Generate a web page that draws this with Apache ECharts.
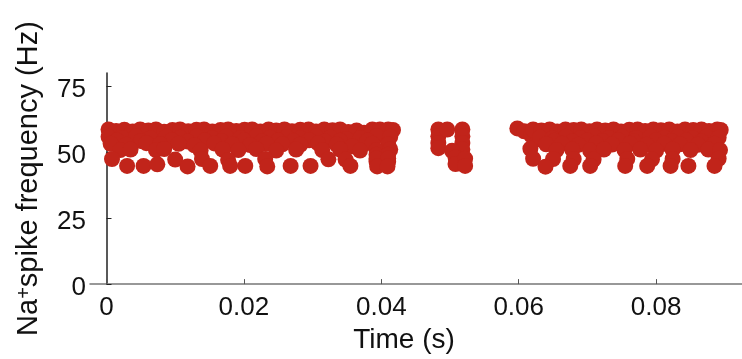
<!DOCTYPE html>
<html>
<head>
<meta charset="utf-8">
<script src="https://cdn.jsdelivr.net/npm/echarts@6.0.0/dist/echarts.min.js"></script>
<style>
  html, body { margin: 0; padding: 0; background: #fff; }
  #chart { width: 742px; height: 359px; }
</style>
</head>
<body>
<div id="chart"></div>
<script>
// spike times (s) and instantaneous frequency (Hz)
const spikesEarly = [
  [0.0003, 58.6], [0.0014, 58.0], [0.0026, 58.5], [0.0038, 57.8], [0.0049, 58.6], [0.0061, 58.2],
  [0.0072, 58.6], [0.0084, 57.7], [0.0096, 58.4], [0.0107, 58.6], [0.0119, 57.9], [0.0131, 58.5],
  [0.0142, 58.6], [0.0154, 57.8], [0.0166, 58.4], [0.0177, 58.6], [0.0189, 58.0], [0.0201, 58.5],
  [0.0212, 58.6], [0.0224, 57.8], [0.0236, 58.6], [0.0247, 58.2], [0.0259, 58.6], [0.0270, 57.9],
  [0.0282, 58.5], [0.0294, 58.6], [0.0305, 57.8], [0.0317, 58.6], [0.0329, 58.3], [0.0340, 58.6],
  [0.0352, 57.6], [0.0364, 58.2], [0.0375, 57.4], [0.0387, 58.6], [0.0398, 58.6], [0.0410, 58.6],
  [0.0417, 58.4],
  [0.0003, 55.8], [0.0023, 55.4], [0.0043, 56.0], [0.0064, 55.2], [0.0087, 55.8], [0.0107, 55.5],
  [0.0131, 55.9], [0.0154, 55.3], [0.0174, 55.8], [0.0195, 55.4], [0.0218, 56.0], [0.0238, 55.5],
  [0.0262, 55.7], [0.0282, 55.3], [0.0305, 55.9], [0.0326, 55.6], [0.0349, 55.0], [0.0370, 55.4],
  [0.0393, 56.0], [0.0413, 55.8],
  [0.0015, 54.4], [0.0050, 54.2], [0.0095, 54.5], [0.0118, 54.0], [0.0143, 54.4], [0.0167, 54.2],
  [0.0200, 54.5], [0.0226, 54.0], [0.0250, 54.4], [0.0272, 54.2], [0.0295, 54.5], [0.0318, 54.0],
  [0.0340, 54.3], [0.0380, 54.4],
  [0.0006, 53.2], [0.0029, 52.8], [0.0058, 53.4], [0.0078, 53.0], [0.0105, 53.2], [0.0128, 52.6],
  [0.0157, 53.3], [0.0183, 53.0], [0.0209, 52.7], [0.0233, 53.2], [0.0256, 53.0], [0.0282, 52.8],
  [0.0308, 53.3], [0.0335, 52.9], [0.0358, 52.2], [0.0387, 53.2], [0.0410, 53.0],
  [0.0020, 50.8], [0.0035, 51.0], [0.0072, 50.8], [0.0084, 51.2], [0.0137, 50.6], [0.0169, 51.0],
  [0.0192, 50.8], [0.0218, 51.2], [0.0247, 50.6], [0.0276, 51.0], [0.0314, 50.8], [0.0340, 51.0],
  [0.0369, 50.6], [0.0393, 50.8], [0.0413, 51.0],
  [0.0393, 49.0], [0.0410, 49.0], [0.0393, 46.4], [0.0410, 46.4],
  [0.0008, 47.4], [0.0100, 47.2], [0.0139, 47.4], [0.0177, 47.0], [0.0231, 47.4], [0.0323, 47.3],
  [0.0348, 47.2], [0.0393, 47.6], [0.0410, 47.6],
  [0.0030, 44.8], [0.0054, 44.8], [0.0074, 45.4], [0.0118, 44.6], [0.0151, 44.8], [0.0180, 44.8],
  [0.0202, 44.8], [0.0234, 44.6], [0.0268, 44.8], [0.0297, 44.8], [0.0355, 44.8], [0.0394, 44.6],
  [0.0409, 44.6]
];

const spikesMid = [
  [0.0483, 58.6], [0.0483, 56.0], [0.0483, 53.5], [0.0483, 51.5], [0.0496, 58.6],
  [0.0518, 58.6], [0.0518, 56.0], [0.0518, 53.5], [0.0518, 51.0], [0.0503, 50.5],
  [0.0508, 48.0], [0.0508, 45.5], [0.0522, 47.5], [0.0522, 44.8]
];

const spikesLate = [
  [0.0598, 59.0], [0.0608, 57.9], [0.0618, 56.4], [0.0628, 54.9],
  [0.0621, 58.6], [0.0633, 58.2], [0.0645, 58.6], [0.0656, 57.8], [0.0668, 58.6], [0.0680, 58.4],
  [0.0691, 58.6], [0.0703, 57.9], [0.0714, 58.6], [0.0726, 58.2], [0.0738, 58.6], [0.0749, 57.8],
  [0.0761, 58.5], [0.0773, 58.6], [0.0784, 58.0], [0.0796, 58.6], [0.0807, 58.3], [0.0819, 58.6],
  [0.0831, 57.8], [0.0842, 58.6], [0.0854, 58.4], [0.0866, 58.6], [0.0877, 58.0], [0.0889, 58.6],
  [0.0894, 58.4],
  [0.0631, 55.6], [0.0649, 55.2], [0.0669, 55.8], [0.0690, 55.4], [0.0710, 55.9], [0.0731, 55.3],
  [0.0751, 55.8], [0.0771, 55.4], [0.0792, 55.9], [0.0812, 55.5], [0.0832, 55.8], [0.0853, 55.3],
  [0.0873, 55.8], [0.0891, 55.5],
  [0.0652, 54.3], [0.0678, 54.0], [0.0700, 54.4], [0.0722, 54.2], [0.0745, 54.5], [0.0768, 54.0],
  [0.0800, 54.4], [0.0822, 54.2], [0.0844, 54.4], [0.0866, 54.0],
  [0.0640, 53.0], [0.0663, 53.2], [0.0687, 52.8], [0.0713, 53.3], [0.0736, 52.9], [0.0762, 53.2],
  [0.0786, 52.8], [0.0812, 53.2], [0.0835, 53.0], [0.0861, 52.8], [0.0885, 53.2],
  [0.0617, 51.3], [0.0655, 50.8], [0.0678, 51.0], [0.0704, 50.6], [0.0724, 51.0], [0.0754, 50.8],
  [0.0777, 51.0], [0.0800, 50.6], [0.0824, 51.0], [0.0850, 50.8], [0.0876, 51.0], [0.0893, 50.8],
  [0.0621, 47.5], [0.0650, 47.4], [0.0680, 47.4], [0.0709, 47.2], [0.0758, 47.4], [0.0794, 47.3],
  [0.0824, 47.4], [0.0891, 47.5],
  [0.0639, 44.5], [0.0675, 44.8], [0.0704, 44.8], [0.0755, 44.8], [0.0787, 44.8], [0.0821, 44.8],
  [0.0847, 44.8], [0.0885, 44.8]
];

const xTicks = [0, 0.02, 0.04, 0.06, 0.08];
const yTicks = [0, 25, 50, 75];

const dotColor = '#c1241a';
const font = "'Liberation Sans', Arial, sans-serif";

const chart = echarts.init(document.getElementById('chart'));

const option = {
  animation: false,
  backgroundColor: '#fff',
  grid: {
    left: 90,
    right: 0,
    top: 73,
    bottom: 69
  },
  xAxis: {
    type: 'value',
    min: -0.0024,
    max: 0.0925,
    name: 'Time (s)',
    nameLocation: 'middle',
    nameGap: 36,
    nameTextStyle: {
      fontFamily: font,
      fontSize: 28,
      color: '#111',
      padding: [0, 24, 0, 0]
    },
    splitLine: { show: false },
    axisLine: { onZero: false, lineStyle: { color: '#777', width: 1.5 } },
    axisTick: {
      inside: true,
      length: 5,
      customValues: xTicks,
      lineStyle: { color: '#555' }
    },
    axisLabel: {
      customValues: xTicks,
      margin: 11,
      fontFamily: font,
      fontSize: 26,
      color: '#111',
      formatter: v => (v === 0 ? '0' : v.toFixed(2))
    }
  },
  yAxis: {
    type: 'value',
    min: 0,
    max: 80,
    name: '{a|Na}{s|+}{a|spike frequency (Hz)}',
    nameLocation: 'middle',
    nameGap: 47,
    nameTextStyle: {
      fontFamily: font,
      fontSize: 29,
      color: '#111',
      rich: {
        a: { fontFamily: font, fontSize: 29, color: '#111' },
        s: { fontFamily: font, fontSize: 20, color: '#111', verticalAlign: 'top' }
      }
    },
    splitLine: { show: false },
    axisLine: { show: true, lineStyle: { color: '#222', width: 1.5 } },
    axisTick: {
      show: true,
      inside: true,
      length: 5,
      customValues: yTicks,
      lineStyle: { color: '#222' }
    },
    axisLabel: {
      customValues: yTicks,
      margin: 4,
      verticalAlign: 'top',
      lineHeight: 8,
      fontFamily: font,
      fontSize: 26,
      color: '#111'
    }
  },
  series: [spikesEarly, spikesMid, spikesLate].map(d => ({
    type: 'scatter',
    data: d,
    symbol: 'circle',
    symbolSize: 16,
    itemStyle: { color: dotColor, opacity: 1 }
  }))
};

chart.setOption(option);
</script>
</body>
</html>
